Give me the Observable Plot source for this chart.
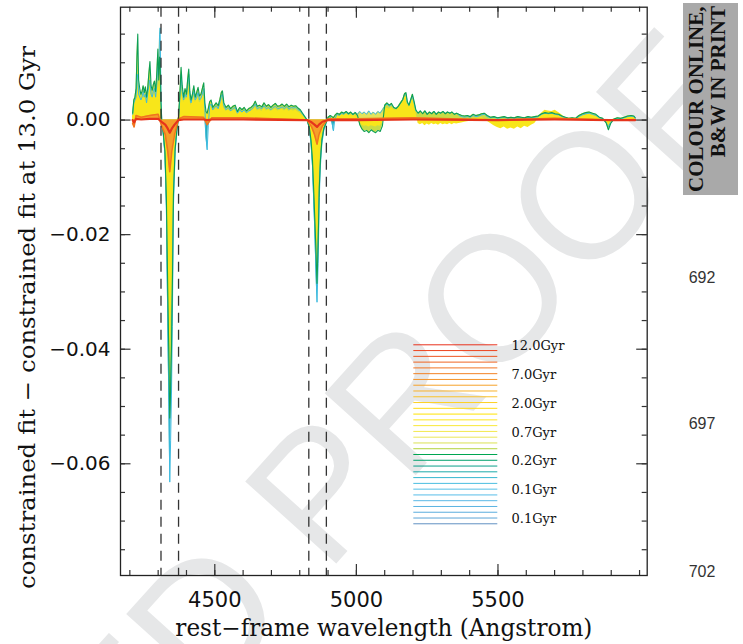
<!DOCTYPE html>
<html><head><meta charset="utf-8">
<script src="https://cdn.jsdelivr.net/npm/d3@7"></script>
<script src="https://cdn.jsdelivr.net/npm/@observablehq/plot@0.6"></script>
<style>
html,body{margin:0;padding:0;background:#fff;}
#wrap{position:relative;width:743px;height:644px;overflow:hidden;background:#fff;}
#wrap > svg{position:absolute;left:0;top:0;}
</style></head>
<body><div id="wrap"></div>
<script>
// ---------------- data ----------------
// wavelength grid (Angstrom) shared by the three youngest fits
const wave = [
  4210,4214,4218,4222,4225,4228,4231,4235,4239,4243,
  4247,4251,4255,4259,4263,4267,4271,4275,4279,4283,
  4287,4291,4295,4299,4302,4305,4307,4310,
  4313,4318,4324,4329,4334,4338,4341,4344,4347,4350,4354,4360,4366,4372,
  4377,4381,4385,4390,4395,4400,4404,4408,4412,4416,
  4421,4426,4431,4436,4441,4446,4451,4456,4461,4465,
  4469,4473,4477,4482,4487,4493,4499,4505,4512,4518,
  4523,4527,4532,4540,4548,4556,4564,4572,4580,4588,
  4596,4604,4612,4620,4628,4636,4643,4650,4658,4666,
  4674,4682,4690,4698,4706,4714,4722,4730,4738,4746,
  4754,4762,4770,4778,4786,4794,4802,4810,4818,4826,
  4834,4840,4845,4849,4853,4857,4861,4865,4869,4873,4878,4885,4893,4900,
  4908,4914,4919,4924,4932,4940,4948,4956,4964,4972,
  4980,4988,4996,5004,5012,5020,5028,5036,5044,5052,
  5060,5068,5076,5084,5092,5100,5108,5116,5124,5132,
  5140,5148,5156,5164,5170,5175,5180,5186,5192,5198,
  5204,5210,5218,5226,5234,5242,5250,5258,5266,5274,
  5282,5290,5298,5306,5314,5322,5330,5338,5346,5354,
  5362,5372,5382,5392,5402,5412,5422,5432,5442,5452,
  5462,5474,5486,5498,5510,5522,5534,5546,5558,5570,
  5582,5594,5606,5618,5630,5642,5654,5666,5678,5690,
  5702,5714,5726,5738,5750,5762,5774,5786,5798,5810,
  5822,5834,5846,5858,5870,5882,5890,5898,5910,5922,
  5934,5946,5958,5970,5980,5985
];
// 0.1 Gyr fit minus 13 Gyr fit (cyan)
const diff01Gyr = [
  .0010,.0030,.0035,.0040,.0070,.0080,.0045,.0040,.0035,.0040,
  .0050,.0040,.0045,.0030,.0045,.0060,.0070,.0045,.0040,.0050,
  .0055,.0040,.0060,.0100,.0080,.0150,.0161,.0040,
  -.0005,-.0025,-.0060,-.0150,-.0355,-.0500,-.0632,-.0560,-.0480,-.0360,-.0150,-.0055,-.0020,.0005,
  .0040,.0080,.0050,.0035,.0045,.0040,.0060,.0080,.0040,.0030,
  .0040,.0050,.0035,.0040,.0048,.0035,.0038,.0045,.0055,.0020,
  -.0030,-.0052,-.0010,.0025,.0028,.0018,.0022,.0025,.0020,.0030,
  .0042,.0045,.0025,.0018,.0022,.0016,.0020,.0022,.0012,.0018,
  .0014,.0018,.0013,.0016,.0018,.0022,.0028,.0020,.0022,.0020,
  .0025,.0020,.0022,.0018,.0022,.0024,.0020,.0021,.0023,.0020,
  .0024,.0019,.0022,.0021,.0022,.0018,.0016,.0010,.0005,.0000,
  -.0015,-.0042,-.0080,-.0135,-.0190,-.0260,-.0318,-.0250,-.0135,-.0080,-.0042,-.0018,-.0006,.0004,
  .0006,-.0005,-.0019,.0002,.0010,.0008,.0012,.0010,.0014,.0010,
  .0013,.0009,.0014,.0010,.0015,.0011,.0014,.0010,.0016,.0010,
  .0014,.0010,.0015,.0012,.0018,.0024,.0028,.0024,.0027,.0022,
  .0020,.0024,.0030,.0036,.0044,.0046,.0030,.0026,.0034,.0042,
  .0030,.0016,.0012,.0015,.0011,.0016,.0010,.0014,.0011,.0015,
  .0010,.0014,.0012,.0015,.0011,.0014,.0012,.0014,.0010,.0012,
  .0008,.0006,.0005,.0006,.0005,.0008,.0006,.0007,.0009,.0010,
  .0006,.0004,.0005,.0003,.0004,.0005,.0003,.0004,.0003,.0005,
  .0004,.0003,.0005,.0004,.0005,.0006,.0010,.0012,.0011,.0012,
  .0010,.0009,.0006,.0004,.0002,.0003,.0002,.0006,.0009,.0011,
  .0012,.0010,.0008,.0004,.0002,-.0004,-.0012,-.0004,.0002,.0003,
  .0002,.0004,.0006,.0007,.0006,.0003
];
// 0.2 Gyr fit minus 13 Gyr fit (green)
const diff02Gyr = [
  .0012,.0035,.0040,.0055,.0110,.0150,.0070,.0055,.0045,.0050,
  .0060,.0048,.0058,.0040,.0055,.0080,.0102,.0060,.0052,.0062,
  .0068,.0050,.0080,.0124,.0070,.0110,.0100,.0030,
  -.0005,-.0022,-.0055,-.0135,-.0300,-.0420,-.0520,-.0470,-.0400,-.0300,-.0130,-.0050,-.0018,.0005,
  .0050,.0092,.0060,.0040,.0055,.0045,.0070,.0089,.0050,.0035,
  .0045,.0060,.0040,.0048,.0057,.0042,.0045,.0055,.0065,.0030,
  .0015,.0012,.0020,.0032,.0035,.0022,.0026,.0030,.0025,.0036,
  .0048,.0051,.0030,.0022,.0026,.0020,.0024,.0026,.0015,.0022,
  .0018,.0022,.0016,.0020,.0022,.0026,.0033,.0024,.0026,.0023,
  .0030,.0024,.0027,.0022,.0026,.0029,.0024,.0025,.0028,.0024,
  .0028,.0023,.0026,.0024,.0025,.0021,.0018,.0012,.0006,.0000,
  -.0013,-.0036,-.0070,-.0118,-.0170,-.0225,-.0285,-.0215,-.0118,-.0070,-.0036,-.0015,-.0005,.0005,
  .0008,.0006,.0004,.0008,.0012,.0010,.0014,.0012,.0015,.0011,
  .0014,.0010,.0013,.0008,-.0008,-.0016,-.0020,-.0018,-.0022,-.0017,
  -.0020,-.0022,-.0018,-.0020,-.0010,.0026,.0030,.0026,.0029,.0022,
  .0020,.0024,.0030,.0036,.0046,.0048,.0032,.0026,.0036,.0045,
  .0032,.0018,.0012,.0016,.0011,.0016,.0010,.0014,.0011,.0015,
  .0010,.0014,.0012,.0015,.0011,.0014,.0012,.0014,.0010,.0012,
  .0010,.0008,.0007,.0008,.0006,.0010,.0008,.0009,.0011,.0012,
  .0008,.0005,.0006,.0004,.0005,.0006,.0004,.0005,.0004,.0006,
  .0005,.0004,.0006,.0005,.0006,.0007,.0011,.0013,.0012,.0013,
  .0011,.0010,.0007,.0005,.0003,.0004,.0003,.0008,.0011,.0013,
  .0014,.0012,.0010,.0005,.0003,-.0005,-.0017,-.0006,.0002,.0004,
  .0003,.0005,.0007,.0008,.0007,.0004
];
// 0.7 Gyr fit minus 13 Gyr fit (yellow)
const diff07Gyr = [
  .0008,.0025,.0030,.0040,.0055,.0060,.0045,.0040,.0035,.0040,
  .0048,.0038,.0045,.0030,.0045,.0055,.0060,.0045,.0040,.0048,
  .0050,.0040,.0055,.0070,.0055,.0070,.0060,.0020,
  -.0005,-.0020,-.0050,-.0120,-.0250,-.0340,-.0400,-.0370,-.0320,-.0240,-.0110,-.0045,-.0015,.0003,
  .0035,.0060,.0042,.0030,.0040,.0035,.0050,.0060,.0035,.0025,
  .0035,.0042,.0030,.0035,.0040,.0030,.0032,.0040,.0045,.0020,
  .0012,.0010,.0015,.0022,.0025,.0016,.0018,.0020,.0018,.0025,
  .0032,.0035,.0020,.0015,.0018,.0014,.0016,.0018,.0010,.0015,
  .0012,.0015,.0011,.0014,.0015,.0018,.0022,.0016,.0018,.0015,
  .0020,.0016,.0018,.0015,.0017,.0019,.0016,.0017,.0019,.0016,
  .0019,.0015,.0017,.0016,.0017,.0014,.0012,.0008,.0004,.0000,
  -.0010,-.0030,-.0058,-.0098,-.0140,-.0185,-.0222,-.0178,-.0098,-.0058,-.0030,-.0012,-.0004,.0003,
  .0005,.0004,.0003,.0005,.0008,.0007,.0009,.0008,.0010,.0008,
  .0009,.0007,.0008,.0005,-.0004,-.0009,-.0011,-.0010,-.0012,-.0010,
  -.0011,-.0012,-.0010,-.0011,-.0005,.0018,.0021,.0019,.0022,.0018,
  .0017,.0020,.0026,.0032,.0040,.0044,.0028,.0022,.0030,.0038,
  .0026,.0014,-.0006,-.0008,-.0006,-.0010,-.0007,-.0009,-.0006,-.0008,
  -.0007,-.0009,-.0006,-.0008,-.0007,-.0008,-.0006,-.0008,-.0006,-.0007,
  -.0006,-.0005,-.0004,-.0003,-.0002,.0003,.0002,.0003,.0004,.0002,
  -.0002,-.0006,-.0010,-.0013,-.0015,-.0012,-.0016,-.0014,-.0016,-.0012,
  -.0015,-.0011,-.0013,-.0009,-.0006,.0002,.0012,.0017,.0016,.0015,
  .0017,.0013,.0009,.0004,.0002,.0001,.0002,.0005,.0008,.0009,
  .0010,.0009,.0007,.0003,.0001,-.0004,-.0010,-.0004,.0001,.0002,
  .0002,.0003,.0004,.0005,.0004,.0002
];
// coarser grid for the oldest fits
const waveOld = [4210,4215,4222,4240,4270,4300,4312,4325,4334,4341,4348,4358,4372,4390,4460,4473,
  4490,4600,4826,4842,4852,4861,4868,4880,4900,5000,5200,5500,5700,5900,5985];
const diff7Gyr = [-.0006,-.0012,.0008,.0005,.0008,.0010,-.0010,-.0025,-.0055,-.0090,-.0055,-.0025,.0002,.0006,.0005,-.0008,
  .0004,.0004,.0000,-.0012,-.0025,-.0042,-.0025,-.0010,.0002,.0002,.0004,.0000,.0003,.0000,.0001];
const diff12Gyr = [.0000,-.0004,.0002,.0001,.0002,.0002,-.0003,-.0008,-.0015,-.0022,-.0015,-.0008,.0000,.0001,.0001,.0000,
  .0001,.0001,.0000,-.0004,-.0008,-.0012,-.0008,-.0003,.0000,.0000,.0001,.0000,.0001,.0000,.0000];
// index-line windows (Angstrom)
const bandEdges = [4310, 4372, 4832, 4894];
// legend
const ageColors = ["#e8311c","#ec431d","#ee541f","#f06421","#f27322","#f38325","#f59328","#f6a22a",
  "#f8b22c","#fac22b","#fcd023","#fedb12","#ffe200","#fee61e","#f9e838","#f2e84b","#ebe757","#dbe255",
  "#b3d33c","#00a651","#00a16d","#0aa08a","#1aaaa8","#35b7cf","#49bde0","#54bfe6","#58bde8","#5ab8e6",
  "#5ab3e2","#5aaddd","#5ca5d6","#6190c2"];
const legendLabels = ["12.0Gyr","7.0Gyr","2.0Gyr","0.7Gyr","0.2Gyr","0.1Gyr","0.1Gyr"];
// axes
const xMajorTicks = [4500, 5000, 5500];
const xMinorTicks = [4200,4300,4400,4500,4600,4700,4800,4900,5000,5100,5200,5300,5400,5500,5600,5700,5800,5900,6000];
const yMajorTicks = [0, -0.02, -0.04, -0.06];
const yMinorTicks = [0.015,0.01,0.005,0,-0.005,-0.01,-0.015,-0.02,-0.025,-0.03,-0.035,-0.04,-0.045,-0.05,-0.055,-0.06,-0.065,-0.07,-0.075];
const xTitle = "rest\u2212frame wavelength (Angstrom)";
const yTitle = "constrained fit \u2212 constrained fit at 13.0 Gyr";
const pageNumbers = ["692", "697", "702"];

if (![diff01Gyr, diff02Gyr, diff07Gyr].every(a => a.length === wave.length)) console.error("length mismatch", wave.length, diff01Gyr.length, diff02Gyr.length, diff07Gyr.length);

// ---------------- layout ----------------
const W = 743, H = 644, mL = 120, mR = 96.3, mT = 6.7, mB = 69;
const xDom = [4167, 6027], yDom = [-0.0795, 0.0197];
const aPerPx = (xDom[1] - xDom[0]) / (W - mL - mR);
const vPerPx = (yDom[1] - yDom[0]) / (H - mT - mB);
const yAtPx = px => yDom[1] - (px - mT) * vPerPx;
const xAtPx = px => xDom[0] + (px - mL) * aPerPx;

const young = wave.map((w, i) => ({w, c: diff01Gyr[i], g: diff02Gyr[i], y: diff07Gyr[i]}));
const old = waveOld.map((w, i) => ({w, o: diff7Gyr[i], r: diff12Gyr[i]}));
const legendRows = ageColors.map((c, i) => ({c, y: yAtPx(344.3 + i * 5.774)}));
const labelRows = legendLabels.map((t, k) => ({t, y: yAtPx(344.3 + 5 * k * 5.774)}));

const axisInk = "#333";
const tickMarks = (len, vals, side) => {
  if (side === "bottom") return Plot.ruleX(vals, {x: d => d, y1: yDom[0], y2: yDom[0] + len * vPerPx, stroke: axisInk, strokeWidth: 1.2});
  if (side === "top") return Plot.ruleX(vals, {x: d => d, y1: yDom[1], y2: yDom[1] - len * vPerPx, stroke: axisInk, strokeWidth: 1.2});
  if (side === "left") return Plot.ruleY(vals, {y: d => d, x1: xDom[0], x2: xDom[0] + len * aPerPx, stroke: axisInk, strokeWidth: 1.2});
  return Plot.ruleY(vals, {y: d => d, x1: xDom[1], x2: xDom[1] - len * aPerPx, stroke: axisInk, strokeWidth: 1.2});
};

const wrap = document.getElementById("wrap");

// background: proof watermark
const bg = d3.select(wrap).append("svg").attr("width", W).attr("height", H);
bg.append("text").attr("transform", "translate(750,104) rotate(-48)")
  .attr("text-anchor", "end").attr("font-family", "Liberation Sans, Arial, sans-serif")
  .attr("font-size", 178).attr("fill", "#e6e7e8").text("UNCORRECTED PROOF");

const chart = Plot.plot({
  width: W, height: H,
  marginLeft: mL, marginRight: mR, marginTop: mT, marginBottom: mB,
  style: {background: "transparent", fontFamily: "DejaVu Sans, sans-serif", color: "#111", overflow: "visible"},
  x: {domain: xDom},
  y: {domain: yDom},
  color: {type: "identity"},
  marks: [
    Plot.areaY(young, {x: "w", y: d => Math.min(d.c, 0), fill: "#22aab4"}),
    Plot.areaY(young, {x: "w", y: d => Math.max(d.c, 0), fill: "#e3e35a"}),
    Plot.areaY(young, {x: "w", y: "g", fill: "#c8dc45"}),
    Plot.areaY(young, {x: "w", y: "y", fill: "#f8e61a"}),
    Plot.lineY(young, {x: "w", y: "c", stroke: "#3dbbe0", strokeWidth: 1}),
    Plot.lineY(young, {x: "w", y: "g", stroke: "#0d9f55", strokeWidth: 1.1}),
    Plot.areaY(old, {x: "w", y: "o", fill: "#f5a02a"}),
    Plot.lineY(old, {x: "w", y: "o", stroke: "#f0761f", strokeWidth: 1.6}),
    Plot.lineY(old, {x: "w", y: "r", stroke: "#e6341c", strokeWidth: 2.2}),
    Plot.ruleX(bandEdges, {x: d => d, stroke: "#333", strokeWidth: 1.3, strokeDasharray: "10,7"}),
    Plot.ruleY(legendRows, {y: "y", x1: xAtPx(413.3), x2: xAtPx(497.3), stroke: "c", strokeWidth: 1}),
    Plot.text(labelRows, {x: xAtPx(511), y: "y", dy: 1, text: "t", textAnchor: "start", fontFamily: "DejaVu Serif, serif", fontSize: 13, fill: "#111"}),
    tickMarks(5, xMinorTicks, "bottom"), tickMarks(11, xMajorTicks, "bottom"),
    tickMarks(5, xMinorTicks, "top"), tickMarks(11, xMajorTicks, "top"),
    tickMarks(5, yMinorTicks, "left"), tickMarks(10.5, yMajorTicks, "left"),
    tickMarks(5, yMinorTicks, "right"), tickMarks(10.5, yMajorTicks, "right"),
    Plot.frame({stroke: "#222", strokeWidth: 1.3}),
    Plot.axisX(xMajorTicks, {anchor: "bottom", tickSize: 0, tickPadding: 16.5, fontSize: 21, label: null, tickFormat: d => String(d)}),
    Plot.axisY(yMajorTicks, {anchor: "left", tickSize: 0, tickPadding: 10, fontSize: 20, label: null, tickFormat: d3.format(".2f")}),
    Plot.text([xTitle], {frameAnchor: "bottom", dy: 53, text: d => d, textAnchor: "middle", lineAnchor: "middle", fontSize: 23.3, fontFamily: "DejaVu Serif, serif", fill: "#111"}),
    Plot.text([yTitle], {x: xAtPx(27), y: yAtPx(317), rotate: -90, text: d => d, textAnchor: "middle", lineAnchor: "middle", fontSize: 22.2, fontFamily: "DejaVu Serif, serif", fill: "#111"})
  ]
});
wrap.appendChild(chart);
// stretch the two axis titles to the widths they have in the reference
chart.querySelectorAll("text").forEach(t => {
  if (t.textContent === yTitle) { t.setAttribute("textLength", 543); t.setAttribute("lengthAdjust", "spacingAndGlyphs"); }
  if (t.textContent === xTitle) { t.setAttribute("textLength", 417); t.setAttribute("lengthAdjust", "spacingAndGlyphs"); }
});

// right-hand page furniture
const fg = d3.select(wrap).append("svg").attr("width", W).attr("height", H).style("pointer-events", "none");
fg.append("rect").attr("x", 683).attr("y", 3).attr("width", 55).attr("height", 192).attr("fill", "#a9a9a9");
fg.append("text").attr("transform", "translate(703,192) rotate(-90)").attr("font-family", "Liberation Serif, serif")
  .attr("font-weight", "bold").attr("font-size", 21).attr("fill", "#111").text("COLOUR ONLINE,");
fg.append("text").attr("transform", "translate(725,6) rotate(-90)").attr("text-anchor", "end").attr("font-family", "Liberation Serif, serif")
  .attr("font-weight", "bold").attr("font-size", 21).attr("fill", "#111").text("B&W IN PRINT");
[277, 423, 571].forEach((y, i) => fg.append("text").attr("x", 702).attr("y", y).attr("dy", "0.35em")
  .attr("text-anchor", "middle").attr("font-family", "Liberation Sans, Arial, sans-serif").attr("font-size", 16)
  .attr("fill", "#333").text(pageNumbers[i]));
</script></body></html>
